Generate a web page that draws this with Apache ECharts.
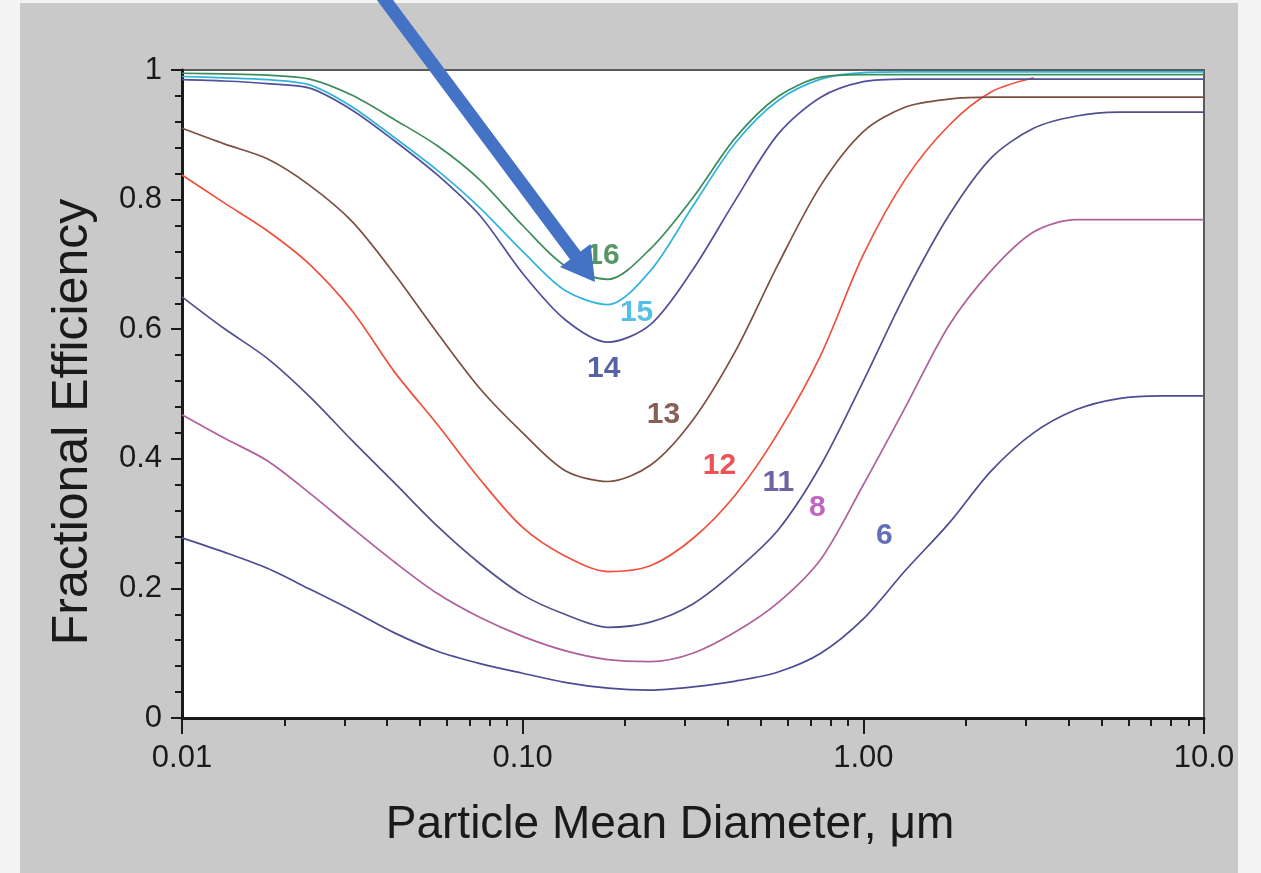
<!DOCTYPE html>
<html>
<head>
<meta charset="utf-8">
<script src="https://cdn.jsdelivr.net/npm/echarts@6/dist/echarts.min.js"></script>
<style>
  html, body { margin:0; padding:0; background:#f3f3f3; }
  #chart { width:1261px; height:873px; }
</style>
</head>
<body>
<div id="chart"></div>
<script>
// ---- data ----
var diameters = [0.01, 0.0133, 0.0178, 0.0237, 0.0316, 0.0422, 0.0562, 0.075, 0.1, 0.133, 0.178, 0.237, 0.316, 0.422, 0.562, 0.75, 1, 1.33, 1.78, 2.37, 3.16, 4.22, 5.62, 7.5, 10];

var eff16 = [0.995, 0.994, 0.992, 0.986, 0.961, 0.923, 0.883, 0.830, 0.760, 0.698, 0.677, 0.724, 0.803, 0.896, 0.959, 0.989, 0.993, 0.993, 0.993, 0.993, 0.993, 0.993, 0.993, 0.993, 0.993];
var eff15 = [0.990, 0.988, 0.985, 0.977, 0.943, 0.895, 0.845, 0.787, 0.720, 0.660, 0.638, 0.690, 0.790, 0.888, 0.953, 0.986, 0.996, 0.997, 0.997, 0.997, 0.997, 0.997, 0.997, 0.997, 0.997];
var eff14 = [0.985, 0.983, 0.979, 0.972, 0.938, 0.890, 0.838, 0.775, 0.686, 0.615, 0.580, 0.607, 0.692, 0.800, 0.901, 0.958, 0.982, 0.986, 0.986, 0.986, 0.986, 0.986, 0.986, 0.986, 0.986];
var eff13 = [0.910, 0.886, 0.863, 0.822, 0.766, 0.684, 0.594, 0.508, 0.440, 0.382, 0.365, 0.390, 0.460, 0.567, 0.700, 0.822, 0.905, 0.943, 0.955, 0.958, 0.958, 0.958, 0.958, 0.958, 0.958];
var eff12 = [0.838, 0.795, 0.752, 0.700, 0.628, 0.533, 0.453, 0.368, 0.294, 0.250, 0.226, 0.235, 0.277, 0.345, 0.440, 0.560, 0.715, 0.832, 0.914, 0.966, 0.988, null, null, null, null];
var eff11 = [0.650, 0.601, 0.555, 0.496, 0.428, 0.362, 0.296, 0.238, 0.190, 0.160, 0.140, 0.148, 0.176, 0.227, 0.290, 0.390, 0.520, 0.655, 0.775, 0.864, 0.910, 0.929, 0.935, 0.935, 0.935];
var eff8  = [0.468, 0.432, 0.397, 0.347, 0.293, 0.240, 0.192, 0.155, 0.126, 0.104, 0.090, 0.087, 0.100, 0.133, 0.178, 0.245, 0.360, 0.480, 0.605, 0.690, 0.750, 0.769, 0.769, 0.769, 0.769];
var eff6  = [0.278, 0.256, 0.231, 0.199, 0.166, 0.131, 0.103, 0.084, 0.069, 0.055, 0.046, 0.043, 0.048, 0.057, 0.071, 0.100, 0.153, 0.228, 0.300, 0.381, 0.440, 0.476, 0.493, 0.497, 0.497];

var seriesNames = ['16', '15', '14', '13', '12', '11', '8', '6'];

// curve number labels: position in data coordinates
var labelNames = ['16', '15', '14', '13', '12', '11', '8', '6'];
var labelX = [0.172, 0.216, 0.173, 0.259, 0.378, 0.563, 0.733, 1.152];
var labelY = [0.714, 0.626, 0.539, 0.468, 0.390, 0.363, 0.324, 0.282];

var xTickValues = [0.01, 0.1, 1, 10];
var xTickLabels = ['0.01', '0.10', '1.00', '10.0'];

// ---- styles ----
var lineColors = ['#3c8c5c', '#30b4dc', '#50509c', '#7a5040', '#f0503c', '#50508c', '#b0609c', '#4c4c94'];
var labelColors = ['#2a7a40', '#2ab0e0', '#2c3a8c', '#6a3828', '#e8282a', '#4a3c8c', '#b040b0', '#3a4aa8'];

var allEff = [eff16, eff15, eff14, eff13, eff12, eff11, eff8, eff6];

var series = allEff.map(function (vals, i) {
  return {
    name: seriesNames[i],
    type: 'line',
    data: diameters.map(function (d, k) { return [d, vals[k]]; }),
    showSymbol: false,
    smooth: 0.3,
    connectNulls: false,
    lineStyle: { color: lineColors[i], width: 1.7 },
    z: 10 - i
  };
});

series.push({
  type: 'scatter',
  symbolSize: 0,
  silent: true,
  data: labelNames.map(function (n, i) {
    return {
      value: [labelX[i], labelY[i]],
      label: { color: labelColors[i] },
      name: n
    };
  }),
  label: {
    show: true,
    position: 'inside',
    formatter: function (p) { return p.name; },
    fontFamily: 'Liberation Sans, Arial, sans-serif',
    fontWeight: 'bold',
    fontSize: 30
  },
  z: 20
});

var chart = echarts.init(document.getElementById('chart'), null, { renderer: 'canvas' });

var font = 'Liberation Sans, Arial, Helvetica, sans-serif';

// arrow annotation geometry (pixel space)
var arrowPts = [[373.8, -4.1], [384.2, -11.9], [580.5, 251.6], [590.6, 244.1], [595, 282], [560.0, 266.9], [570.1, 259.4]];

chart.setOption({
  backgroundColor: '#f3f3f3',
  animation: false,
  graphic: [
    { type: 'rect', shape: { x: 20, y: 3, width: 1218, height: 880 }, style: { fill: '#c9c9c9' }, z: -10, silent: true },
    { type: 'polygon', shape: { points: arrowPts }, style: { fill: '#4472c4' }, z: 100, silent: true }
  ],
  grid: {
    left: 182, right: 57, top: 70, bottom: 155,
    show: true, backgroundColor: '#ffffff', borderColor: '#5a5a5a', borderWidth: 2
  },
  xAxis: {
    type: 'log', logBase: 10, min: 0.01, max: 10,
    name: 'Particle Mean Diameter, \u03bcm',
    nameLocation: 'middle', nameGap: 84,
    nameTextStyle: { fontFamily: font, fontSize: 46, color: '#1a1a1a', padding: [0, 46, 0, 0] },
    axisLine: { show: true, lineStyle: { color: '#1a1a1a', width: 3 } },
    axisTick: { show: true, length: 16, lineStyle: { color: '#1a1a1a', width: 2 } },
    minorTick: { show: true, splitNumber: 9, length: 8, lineStyle: { color: '#1a1a1a', width: 2 } },
    axisLabel: {
      fontFamily: font, fontSize: 31, color: '#1a1a1a', margin: 25,
      formatter: function (v) {
        for (var i = 0; i < xTickValues.length; i++) {
          if (Math.abs(Math.log10(v) - Math.log10(xTickValues[i])) < 1e-6) return xTickLabels[i];
        }
        return '';
      }
    },
    splitLine: { show: false }
  },
  yAxis: {
    type: 'value', min: 0, max: 1, interval: 0.2,
    name: 'Fractional Efficiency',
    nameLocation: 'middle', nameGap: 84,
    nameTextStyle: { fontFamily: font, fontSize: 50, color: '#1a1a1a', padding: [0, 56, 0, 0] },
    axisLine: { show: true, lineStyle: { color: '#1a1a1a', width: 3 } },
    axisTick: { show: true, length: 11, lineStyle: { color: '#1a1a1a', width: 2 } },
    minorTick: { show: true, splitNumber: 5, length: 7, lineStyle: { color: '#1a1a1a', width: 2 } },
    axisLabel: { fontFamily: font, fontSize: 31, color: '#1a1a1a', margin: 20 },
    splitLine: { show: false }
  },
  series: series
});
</script>
</body>
</html>
